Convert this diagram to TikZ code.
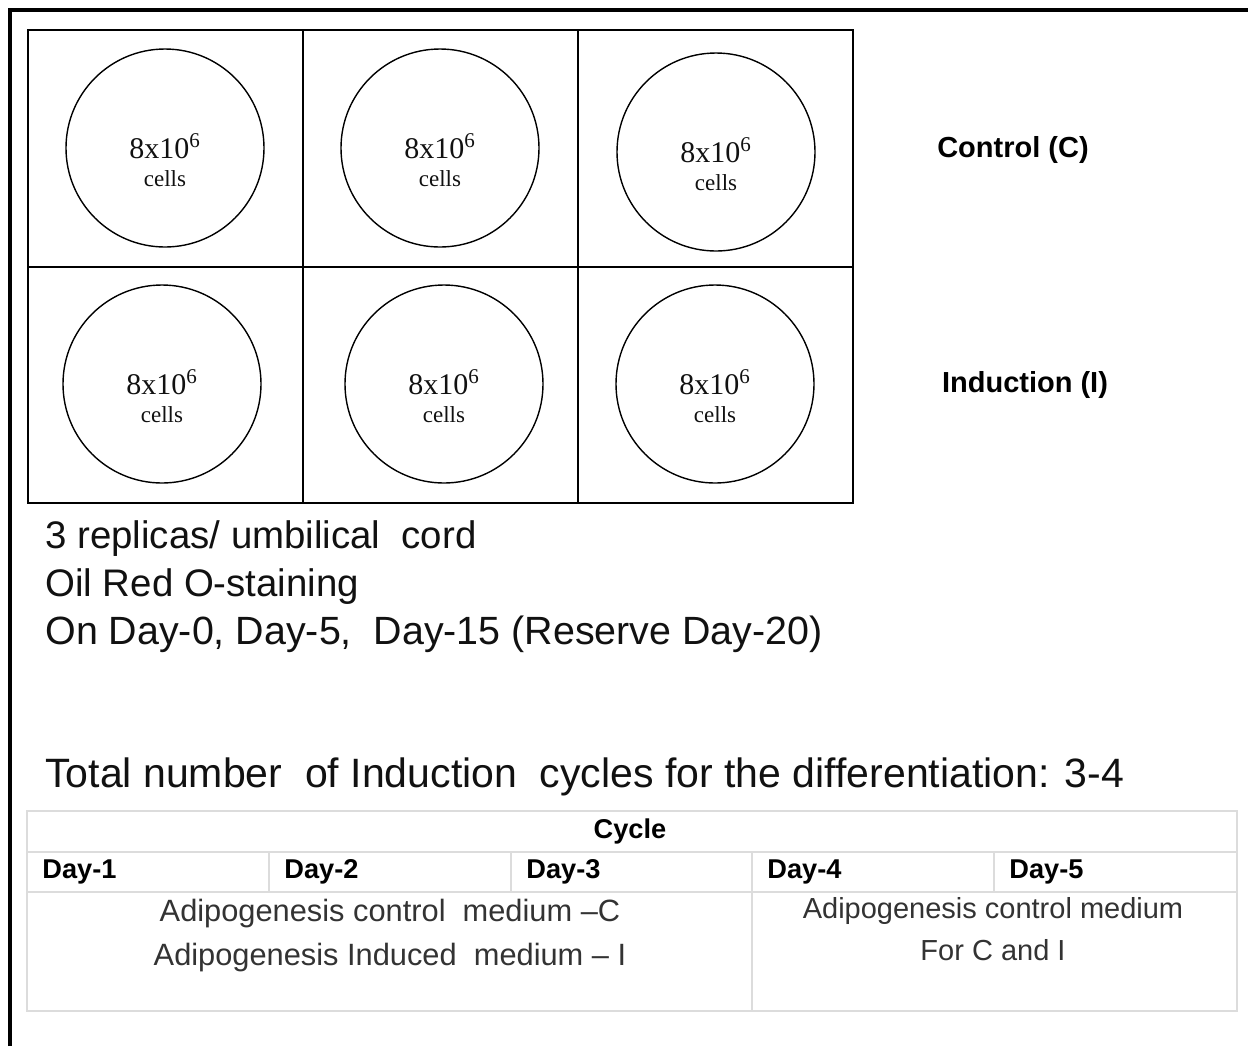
\documentclass[tikz,border=0pt]{standalone}
\usepackage{fontspec}
\setmainfont{Liberation Serif}
\setsansfont{Liberation Sans}
\usetikzlibrary{positioning}
\definecolor{tablegray}{HTML}{DCDCDC}
\definecolor{medtext}{HTML}{333333}
\definecolor{darktext}{HTML}{111111}
\tikzset{
    dish/.style={draw, circle, line width=0.7pt, minimum size=99pt, inner sep=0pt},
    numtxt/.style={font=\fontsize{15}{17}\selectfont, text=darktext, inner sep=0pt},
    cellstxt/.style={font=\fontsize{11.5}{13}\selectfont, text=darktext, inner sep=0pt},
    rowlabel/.style={font=\sffamily\bfseries\fontsize{14.5}{17}\selectfont, inner sep=0pt},
    notetxt/.style={font=\sffamily\fontsize{19.2}{22}\selectfont, text=darktext, anchor=base west, inner sep=0pt},
    tline/.style={draw=tablegray, line width=1pt},
    headtxt/.style={font=\sffamily\bfseries\fontsize{13.6}{16}\selectfont, inner sep=0pt},
    medtxt/.style={font=\sffamily\fontsize{14.5}{17}\selectfont, text=medtext, inner sep=0pt},
}
\begin{document}
\begin{tikzpicture}[x=0.5pt, y=-0.5pt]
\clip (0,0) rectangle (1248,1046);
\fill[white] (0,0) rectangle (1248,1046);
\draw[line width=2pt] (10,1046)--(10,10)--(1248,10);
\draw[line width=0.7pt] (28,30) rectangle (853,503);
\draw[line width=0.7pt] (28,267)--(853,267);
\foreach \x in {303,578} {
\draw[line width=0.7pt] (\x,30)--(\x,503);
}
\foreach \n/\x/\y in {ctrl1/165/148, ctrl2/440/148, ctrl3/716/152, ind1/162/384, ind2/444/384, ind3/715/384} {
\node[dish] (\n) at (\x,\y) {};
\node[numtxt, anchor=base] (\n-num) at ([yshift=-5pt]\n.center) {8x10\textsuperscript{6}};
\node[cellstxt, anchor=base] (\n-cells) at ([yshift=-19pt]\n.center) {cells};
}
\node[rowlabel] (lblctrl) at (1013,150) {Control (C)};
\node[rowlabel] (lblind) at (1025,385) {Induction (I)};
\node[notetxt] (note1) at (45,548) {3 replicas/ umbilical~ cord};
\node[notetxt] (note2) at (45,596) {Oil Red O-staining};
\node[notetxt, font=\sffamily\fontsize{19.7}{22}\selectfont] (note3) at (45,644) {On Day-0, Day-5,~ Day-15 (Reserve Day-20)};
\node[notetxt, font=\sffamily\fontsize{20.5}{23}\selectfont] (total) at (45,787) {Total number~ of Induction~ cycles for the differentiation: 3-4};
\draw[tline] (27,811) rectangle (1237,1011);
\draw[tline] (27,852)--(1237,852);
\draw[tline] (27,892)--(1237,892);
\foreach \x in {269,511,994} {
\draw[tline] (\x,852)--(\x,892);
}
\draw[tline] (752,852)--(752,1011);
\node[headtxt] (cycle) at (630,831) {Cycle};
\foreach \x/\d in {27/1, 269/2, 511/3, 752/4, 994/5} {
\node[headtxt, anchor=west] (day\d) at (\x+15,872) {Day-\d};
}
\node[medtxt, font=\sffamily\fontsize{15.4}{18}\selectfont] (medc) at (390,914) {Adipogenesis control~ medium –C};
\node[medtxt, font=\sffamily\fontsize{15.4}{18}\selectfont] (medi) at (390,958) {Adipogenesis Induced~ medium – I};
\node[medtxt] (medr1) at (993,911) {Adipogenesis control medium};
\node[medtxt] (medr2) at (993,950) {For C and I};
\end{tikzpicture}
\end{document}
